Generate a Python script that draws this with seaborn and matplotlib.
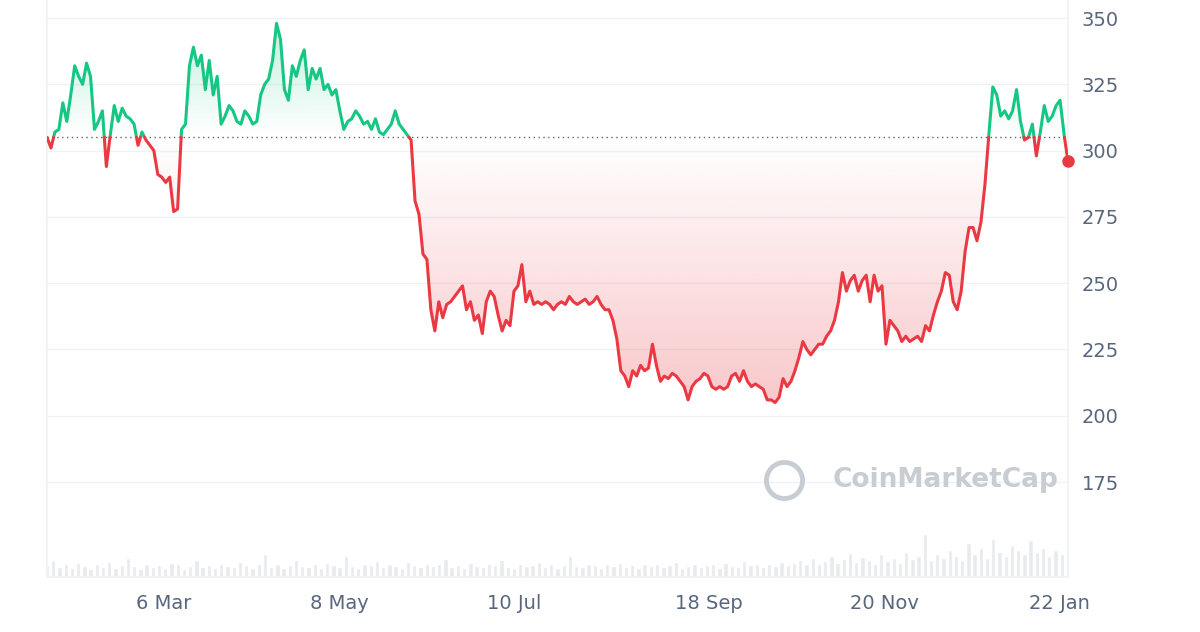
import numpy as np, pandas as pd, matplotlib
matplotlib.use("Agg")
import matplotlib.pyplot as plt
import seaborn as sns
from matplotlib.patches import Polygon

price = [305,301,307,308,318,311,321,332,328,325,333,328,308,311,315,294,306,317,311,316,313,312,310,302,307,304,302,300,291,290,288,290,277,278,308,310,332,339,332,336,323,334,321,328,310,313,317,315,311,310,315,313,310,311,321,325,327,334,348,342,323,319,332,328,334,338,323,331,327,331,323,325,321,323,315,308,311,312,315,313,310,311,308,312,307,306,308,310,315,310,308,306,304,281,276,261,259,240,232,243,237,242,243,245,247,249,240,243,236,238,231,243,247,245,238,232,236,234,247,249,257,243,247,242,243,242,243,242,240,242,243,242,245,243,242,243,244,242,243,245,242,240,240,236,229,217,215,211,217,215,219,217,218,227,219,213,215,214,216,215,213,211,206,211,213,214,216,215,211,210,211,210,211,215,216,213,217,213,211,212,211,210,206,206,205,207,214,211,213,217,222,228,225,223,225,227,227,230,232,236,243,254,247,251,253,247,251,253,243,253,247,249,227,236,234,232,228,230,228,229,230,228,234,232,238,243,247,254,253,243,240,247,262,271,271,266,273,287,306,324,321,313,315,312,315,323,311,304,305,310,298,307,317,311,313,317,319,306,296]
volume = [12,18,10,14,9,15,11,8,13,10,16,9,12,20,11,8,14,10,12,9,15,13,8,11,18,10,12,9,14,11,10,16,12,9,13,24,10,14,9,12,18,11,10,13,9,15,12,10,22,11,9,14,12,17,10,13,11,9,16,12,10,14,11,13,19,10,12,9,15,11,10,13,12,18,10,9,14,11,12,16,10,13,9,12,22,11,10,14,12,9,13,11,15,10,12,9,14,11,13,10,12,16,9,11,14,10,12,13,9,15,11,10,17,12,14,10,13,11,16,12,15,18,13,20,14,17,22,15,19,25,16,21,18,14,24,17,20,15,26,19,22,45,18,24,20,28,22,18,35,24,30,20,40,26,22,33,28,24,38,26,30,22,28,24,32]
ticks = ["2024-03-06","2024-05-08","2024-07-10","2024-09-18","2024-11-20","2025-01-22"]
tick_labels = ["6 Mar","8 May","10 Jul","18 Sep","20 Nov","22 Jan"]
baseline = 305

GREEN, RED = "#16c784", "#ea3943"
sns.set_theme(style="white")
plt.rcParams['font.family'] = ['DejaVu Sans']
dates = pd.date_range("2024-01-24", "2025-01-25", periods=len(price))
x = matplotlib.dates.date2num(dates)
y = np.array(price, float)

fig = plt.figure(figsize=(12, 6.32), dpi=100)
ax = fig.add_axes([47/1200, 55/632, 1021/1200, 577/632])
ymin, ymax = 139.2, 356.8
ax.set_ylim(ymin, ymax)
ax.set_xlim(x[0], x[-1])

xs, ys = [x[0]], [y[0]]
for i in range(1, len(x)):
    if (y[i-1]-baseline)*(y[i]-baseline) < 0:
        t = (baseline-y[i-1])/(y[i]-y[i-1])
        xs.append(x[i-1]+t*(x[i]-x[i-1])); ys.append(baseline)
    xs.append(x[i]); ys.append(y[i])
xs, ys = np.array(xs), np.array(ys)

def grad_fill(mask_above, color, lo, hi, strong_at_low):
    yy = np.where(mask_above, ys, baseline)
    verts = np.column_stack([np.r_[xs, xs[::-1]], np.r_[yy, np.full(len(xs), baseline)]])
    poly = Polygon(verts, closed=True, facecolor="none", edgecolor="none")
    ax.add_patch(poly)
    rgb = matplotlib.colors.to_rgb(color)
    a = np.linspace(0, 1, 256)[:, None]
    alpha = (1-a) if strong_at_low else a
    img = np.zeros((256, 1, 4)); img[..., :3] = rgb; img[..., 3] = alpha*0.28
    im = ax.imshow(img, extent=[x[0], x[-1], lo, hi], origin="lower", aspect="auto", zorder=1)
    im.set_clip_path(poly)

grad_fill(ys >= baseline, GREEN, baseline, 350, False)
grad_fill(ys <= baseline, RED, 205, baseline, True)

ya = np.where(ys >= baseline, ys, np.nan)
yb = np.where(ys <= baseline, ys, np.nan)
ax.plot(xs, ya, color=GREEN, lw=2.2, zorder=3, solid_joinstyle="round")
ax.plot(xs, yb, color=RED, lw=2.2, zorder=3, solid_joinstyle="round")
ax.plot(x[-1], y[-1], "o", color=RED, ms=8, zorder=4, clip_on=False)
ax.axhline(baseline, color="#666", lw=1, ls=(0, (1, 2.5)), zorder=2)

ax2 = ax.twinx()
vx = np.linspace(x[0], x[-1], len(volume))
ax2.bar(vx, volume, width=(x[-1]-x[0])/len(volume)*0.7, color="#e8eaee", zorder=0)
ax2.set_ylim(0, 600)
ax2.set_yticks([]); ax2.set_zorder(0); ax.set_zorder(1); ax.patch.set_visible(False)
for s in ax2.spines.values(): s.set_visible(False)

ax.yaxis.tick_right()
ax.set_yticks([175, 200, 225, 250, 275, 300, 325, 350])
ax.grid(axis="y", color="#eff2f5", lw=1)
ax.set_xticks(matplotlib.dates.date2num(pd.to_datetime(ticks)))
ax.set_xticklabels(tick_labels)
ax.tick_params(axis="both", length=0, labelsize=14, labelcolor="#58667e", pad=12)
ax.tick_params(axis="y", pad=10)
for k, s in ax.spines.items():
    s.set_visible(k in ("left", "right", "bottom")); s.set_color("#eff2f5")
ax.text(0.88, 0.168, "CoinMarketCap", transform=ax.transAxes, ha="center", va="center",
        fontsize=19, color="#c8ccd3", fontweight="semibold", zorder=5)
ax.plot(0.722, 0.168, "o", transform=ax.transAxes, ms=26, mfc="none", mec="#c8ccd3", mew=3.5, zorder=5)
fig.savefig("out.png", dpi=100)
